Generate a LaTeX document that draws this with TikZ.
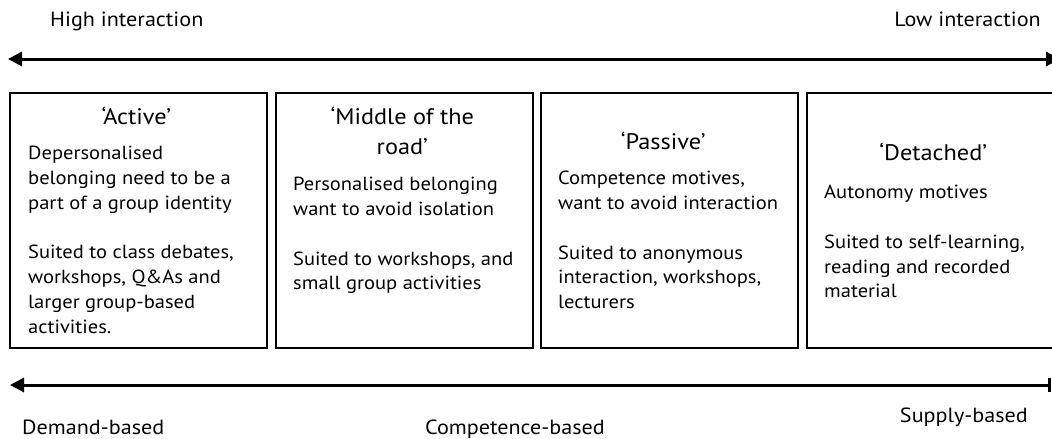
\documentclass[tikz,border=0pt]{standalone}
\usepackage{fontspec}
\setmainfont{PT Sans}[FakeStretch=1.08]
\usetikzlibrary{arrows.meta,positioning}

\begin{document}
\begin{tikzpicture}[x=1pt,y=-1pt,
  panel/.style={draw=black,line width=1.6pt,minimum width=257pt,minimum height=255pt,inner sep=0pt,anchor=north west},
  heading/.style={font=\fontsize{22.5}{30}\selectfont,align=center,inner sep=0pt,anchor=north},
  body/.style={font=\fontsize{19}{24.8}\selectfont,align=left,inner sep=0pt,anchor=north west},
  scalelabel/.style={font=\fontsize{20.5}{24}\selectfont,inner sep=0pt,anchor=base west},
  axis/.style={line width=3pt}]
\useasboundingbox (0,0) rectangle (1052,439);
\node[scalelabel] (high) at (50,27) {High interaction};
\node[scalelabel,anchor=base east] (low) at (1041,27) {Low interaction};
\coordinate (topl) at (8,59);
\coordinate (topr) at (1060,59);
\draw[axis,{Triangle[length=14pt,width=14pt]}-{Triangle[length=14pt,width=14pt]}] (topl) -- (topr);
\node[panel] (active) at (9,92) {};
\node[panel] (middle) at (275,92) {};
\node[panel] (passive) at (540,92) {};
\node[panel] (detached) at (806,92) {};
\node[heading] (activehd) at ([shift={(-2,15)}]active.north) {`Active'};
\node[heading] (middlehd) at ([shift={(-2,15)}]middle.north) {`Middle of the\\road'};
\node[heading] (passivehd) at ([shift={(-6,40)}]passive.north) {`Passive'};
\node[heading] (detachedhd) at ([shift={(-2,51)}]detached.north) {`Detached'};
\node[body] (activetxt) at ([shift={(19,54)}]active.north west) {Depersonalised\\belonging need to be a\\part of a group identity\\[24.8pt]Suited to class debates,\\workshops, Q\&As and\\larger group-based\\activities.};
\node[body] (middletxt) at ([shift={(18,85)}]middle.north west) {Personalised belonging\\want to avoid isolation\\[24.8pt]Suited to workshops, and\\small group activities};
\node[body] (passivetxt) at ([shift={(18,79)}]passive.north west) {Competence motives,\\want to avoid interaction\\[24.8pt]Suited to anonymous\\interaction, workshops,\\lecturers};
\node[body] (detachedtxt) at ([shift={(18,93)}]detached.north west) {Autonomy motives\\[24.8pt]Suited to self-learning,\\reading and recorded\\material};
\coordinate (botl) at (10,385);
\coordinate (botr) at (1051,385);
\draw[axis,{Triangle[length=14pt,width=14pt]}-{Bar[width=14pt]}] (botl) -- (botr);
\node[scalelabel] (demand) at (22,434) {Demand-based};
\node[scalelabel,anchor=base] (competence) at (515,434) {Competence-based};
\node[scalelabel,anchor=base east] (supply) at (1028,422) {Supply-based};
\end{tikzpicture}
\end{document}
